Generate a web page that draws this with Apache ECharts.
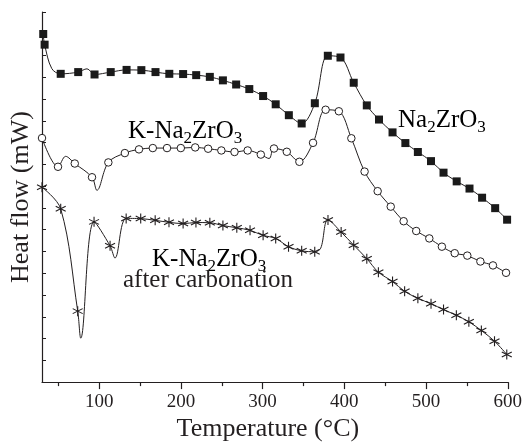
<!DOCTYPE html>
<html>
<head>
<meta charset="utf-8">
<script src="https://cdn.jsdelivr.net/npm/echarts@6/dist/echarts.min.js"></script>
<style>
html,body{margin:0;padding:0;background:#fff;}
#chart{width:525px;height:447px;}
</style>
</head>
<body>
<div id="chart"></div>
<script>
// Tick labels
const xTicks = [100, 200, 300, 400, 500, 600];
const xMinorTicks = [50, 150, 250, 350, 450, 550];

// Na2ZrO3 (filled squares) – marker points [T, heat flow (a.u.)]
const naMarkers = [[31.5,15.99],[33.2,15.50],[52.9,14.16],[74.3,14.24],[94.3,14.13],[114.1,14.24],[133.5,14.34],[151.6,14.33],[168.9,14.24],[185.8,14.16],[202.7,14.15],[218.7,14.10],[235.4,14.02],[251.4,13.86],[267.6,13.67],[283.7,13.46],[300.6,13.14],[316.0,12.76],[332.1,12.26],[347.8,11.88],[363.9,12.81],[379.8,14.99],[395.3,14.91],[411.5,13.75],[427.5,12.71],[442.4,12.06],[459.0,11.47],[474.7,10.98],[490.0,10.57],[506.1,10.15],[521.4,9.62],[537.5,9.22],[553.2,8.89],[568.6,8.47],[584.6,7.99],[599.2,7.46]];
// extra curve points read between markers
const naExtra = [[42.0,14.40],[85.1,14.39]];

// K-Na2ZrO3 (open circles)
const kMarkers = [[30.0,11.21],[49.6,9.89],[70.1,10.04],[91.2,9.41],[111.2,10.09],[131.4,10.52],[148.7,10.69],[165.6,10.75],[183.0,10.75],[199.9,10.75],[217.5,10.78],[233.3,10.72],[249.5,10.64],[265.6,10.57],[281.7,10.64],[297.8,10.45],[313.9,10.73],[329.6,10.58],[345.0,10.12],[361.7,10.99],[377.1,12.51],[393.3,12.44],[408.6,11.20],[424.8,9.67],[440.8,8.77],[456.8,8.06],[472.6,7.39],[488.0,6.94],[504.0,6.60],[519.4,6.22],[535.1,5.92],[550.5,5.81],[566.5,5.54],[581.9,5.36],[597.9,5.02]];
const kExtra = [[58.9,10.37],[97.2,8.81],[307.9,10.27]];

// K-Na2ZrO3 after carbonation (asterisks)
const cMarkers = [[30.0,8.95],[52.9,7.96],[73.7,3.26],[93.7,7.36],[113.3,6.26],[133.0,7.52],[150.8,7.51],[168.5,7.43],[185.4,7.34],[202.7,7.28],[218.4,7.33],[235.4,7.32],[251.4,7.19],[268.4,7.09],[284.6,6.97],[300.6,6.74],[316.0,6.60],[331.7,6.22],[347.8,6.03],[363.8,5.99],[380.0,7.45],[396.1,6.89],[411.5,6.29],[427.5,5.67],[441.7,5.05],[459.0,4.62],[473.8,4.17],[490.0,3.85],[506.1,3.60],[521.4,3.33],[537.1,3.07],[552.4,2.77],[567.7,2.37],[583.8,1.88],[598.8,1.27]];
const cExtra = [[77.4,2.02],[119.3,5.70],[371.1,6.15]];

const FONT = 'Liberation Serif';
const INK = '#231f20';

function curve(markers, extra) {
  return markers.concat(extra).sort((a, b) => a[0] - b[0]);
}

const chart = echarts.init(document.getElementById('chart'), null, {renderer: 'canvas'});

const lineBase = {type: 'line', smooth: 0.35, symbol: 'none', lineStyle: {color: INK, width: 1}, z: 2, silent: true};
const asterisk = 'path://M0,-10L0,10M-8.66,-5L8.66,5M-8.66,5L8.66,-5';

const richStyle = {
  n: {fontFamily: FONT, fontSize: 25, lineHeight: 28, verticalAlign: 'top', color: INK},
  s: {fontFamily: FONT, fontSize: 17, lineHeight: 28, verticalAlign: 'bottom', color: INK}
};

chart.setOption({
  animation: false,
  backgroundColor: '#fff',
  grid: {left: 36, right: 17, top: 12, bottom: 57, containLabel: false},
  xAxis: [{
    type: 'value', min: 30, max: 600, position: 'bottom',
    name: 'Temperature (°C)', nameLocation: 'middle', nameGap: 29,
    nameTextStyle: {fontFamily: FONT, fontSize: 26, color: INK, padding: [0, 14, 0, 0]},
    axisLine: {show: true, lineStyle: {color: INK, width: 1.2}},
    axisTick: {show: true, inside: false, length: 7, customValues: xTicks, lineStyle: {color: INK, width: 1.2}},
    axisLabel: {show: true, customValues: xTicks, fontFamily: FONT, fontSize: 19, color: INK, margin: 10},
    splitLine: {show: false}
  }, {
    type: 'value', min: 30, max: 600, position: 'bottom', offset: 0,
    axisLine: {show: false},
    axisTick: {show: true, inside: false, length: 4, customValues: xMinorTicks, lineStyle: {color: INK, width: 1.2}},
    axisLabel: {show: false},
    splitLine: {show: false}
  }],
  yAxis: {
    type: 'value', min: 0, max: 17, interval: 1,
    name: 'Heat flow (mW)', nameLocation: 'middle', nameGap: 8,
    nameTextStyle: {fontFamily: FONT, fontSize: 26, color: INK},
    axisLine: {show: true, lineStyle: {color: INK, width: 1.2}},
    axisTick: {show: true, inside: true, length: 4, lineStyle: {color: INK, width: 1}},
    axisLabel: {show: false},
    splitLine: {show: false}
  },
  series: [
    Object.assign({}, lineBase, {name: 'Na2ZrO3 curve', data: curve(naMarkers, naExtra)}),
    Object.assign({}, lineBase, {name: 'K-Na2ZrO3 curve', data: curve(kMarkers, kExtra)}),
    Object.assign({}, lineBase, {name: 'carbonated curve', data: curve(cMarkers, cExtra)}),
    {type: 'scatter', name: 'Na2ZrO3', data: naMarkers, symbol: 'rect', symbolSize: 8,
     itemStyle: {color: '#1a1a1a', opacity: 1}, z: 3, silent: true},
    {type: 'scatter', name: 'K-Na2ZrO3', data: kMarkers, symbol: 'circle', symbolSize: 7.5,
     itemStyle: {color: '#fff', borderColor: INK, borderWidth: 1, opacity: 1}, z: 3, silent: true},
    {type: 'scatter', name: 'K-Na2ZrO3 after carbonation', data: cMarkers, symbol: asterisk, symbolSize: 10,
     itemStyle: {color: 'none', borderColor: INK, borderWidth: 1.1, opacity: 1}, z: 3, silent: true}
  ],
  graphic: [
    {type: 'text', left: 398, top: 108, z: 10, style: {text: '{n|Na}{s|2}{n|ZrO}{s|3}', rich: richStyle}},
    {type: 'text', left: 128, top: 119, z: 10, style: {text: '{n|K-Na}{s|2}{n|ZrO}{s|3}', rich: richStyle}},
    {type: 'text', left: 152, top: 247, z: 10, style: {text: '{n|K-Na}{s|2}{n|ZrO}{s|3}', rich: richStyle}},
    {type: 'text', left: 123, top: 268, z: 10, style: {text: 'after carbonation', fontFamily: FONT, fontSize: 25, lineHeight: 25, fill: INK}}
  ]
});
</script>
</body>
</html>
